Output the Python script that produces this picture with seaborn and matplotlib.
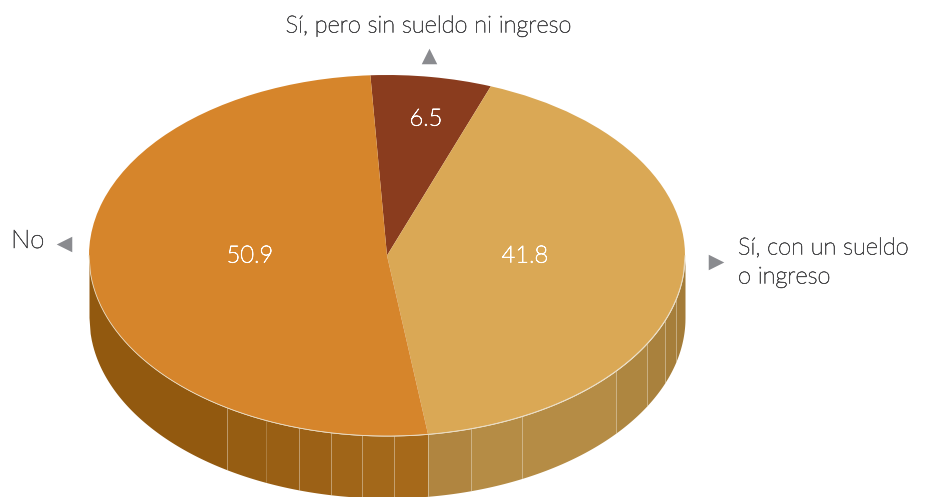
import numpy as np
import matplotlib
matplotlib.use("Agg")
import matplotlib.pyplot as plt
import matplotlib.patheffects as pe
import seaborn as sns

# -----------------------------------------------------------------------------
# Data
# -----------------------------------------------------------------------------
values = [6.5, 41.8, 50.9]
value_labels = ["6.5", "41.8", "50.9"]
top_colors = ["#8A3C1E", "#DAA855", "#D6852B"]

# facets on the rim, left to right (pixel edges, shade)
left_edges = [89, 227, 265.5, 299, 331, 362, 394]
left_shades = ["#92590F", "#965D12", "#995F14", "#9C6116", "#A06518", "#A3681A", "#A6691A"]
right_edges = [471, 522, 616, 647, 665, 676, 685]
right_shades = ["#B08540", "#B58C45", "#B58C45", "#AE8640", "#A9813D", "#A67E3A", "#A47C38"]

# -----------------------------------------------------------------------------
# Geometry
# -----------------------------------------------------------------------------
WIDTH, HEIGHT = 927, 497
CX, CY = 387, 255.5
RX, RY = 298, 180.5
DEPTH = 62 / RY
START = 93.2
TEXT = "#4A4A4C"
ARROW = "#8A8B8F"
RIM = "#E9DCC3"


def px(x, y):
    """Pixel position in the reference -> unit pie coordinates."""
    return (x - CX) / RX, (CY - y) / RY


def wall(ax, x0, x1, color):
    xs = np.linspace(x0, x1, 120)
    top = -np.sqrt(np.clip(1 - xs ** 2, 0, 1))
    ax.fill_between(xs, top, top - DEPTH, color=color, lw=0, zorder=1)


def label(ax, pos, txt, color=TEXT, size=17, ha="left", stroke=0.45):
    # Lato Light is a hairline here, so fatten it a little with a stroke
    x, y = px(*pos)
    t = ax.text(x, y, txt, color=color, fontsize=size, ha=ha, va="center", zorder=5)
    t.set_path_effects([pe.withStroke(linewidth=stroke, foreground=color)])


sns.set_theme(style="white")
plt.rcParams["font.family"] = ["Lato", "DejaVu Sans"]
plt.rcParams["font.weight"] = "light"

fig, ax = plt.subplots(figsize=(WIDTH / 100, HEIGHT / 100), dpi=100)
fig.subplots_adjust(0, 0, 1, 1)

wedges, _ = ax.pie(
    values,
    colors=sns.color_palette(top_colors),
    startangle=START,
    counterclock=False,
    radius=1,
    wedgeprops={"linewidth": 0, "zorder": 3},
)

# where the tan and orange slices meet on the front rim
split_deg = START - 360 * sum(values[:2]) / sum(values)
split_x = np.cos(np.radians(split_deg))

x_left = [px(e, 0)[0] for e in left_edges] + [split_x]
x_right = [split_x] + [px(e, 0)[0] for e in right_edges]

for i, shade in enumerate(left_shades):
    wall(ax, x_left[i], x_left[i + 1], shade)
for i, shade in enumerate(right_shades):
    wall(ax, x_right[i], x_right[i + 1], shade)

# thin light seams between facets and along the top rim
for x in x_left[1:] + x_right[:-1]:
    y = -np.sqrt(1 - x ** 2)
    ax.plot([x, x], [y, y - DEPTH], color=RIM, lw=0.5, alpha=0.35, zorder=2)
rim_x = np.linspace(-1, 1, 400)
ax.plot(rim_x, -np.sqrt(1 - rim_x ** 2), color=RIM, lw=0.6, zorder=4)

# values on the slices
for pos, txt in zip([(426, 119), (525, 256), (250, 256)], value_labels):
    label(ax, pos, txt, color="white", ha="center", stroke=0.6)

# category labels
label(ax, (429, 26), "Sí, pero sin sueldo ni ingreso", ha="center")
label(ax, (11, 241), "No", size=18.5)
label(ax, (738, 248), "Sí, con un sueldo")
label(ax, (738, 277), "o ingreso")

# arrow heads beside the labels
for pos, marker in zip([(429, 56), (64, 244), (716, 262)], ["^", "<", ">"]):
    x, y = px(*pos)
    ax.scatter([x], [y], marker=marker, s=125, color=ARROW, linewidths=0, zorder=5)

# pie() forces an equal aspect; squash it into the tilted ellipse
ax.set_aspect("auto")
ax.set_xlim(px(0, 0)[0], px(WIDTH, 0)[0])
ax.set_ylim(px(0, HEIGHT)[1], px(0, 0)[1])
sns.despine(ax=ax, left=True, bottom=True)

fig.savefig("out.png", dpi=100)
